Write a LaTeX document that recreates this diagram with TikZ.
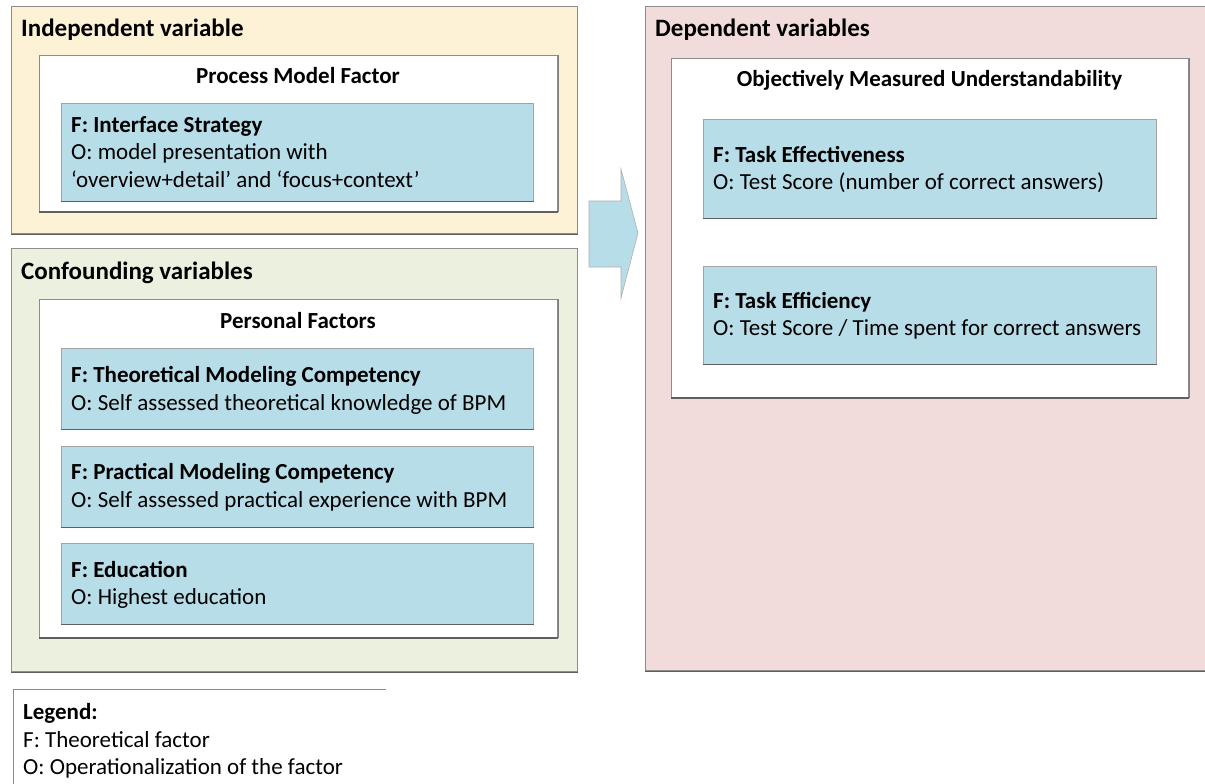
\documentclass[tikz,border=0pt]{standalone}
\usepackage{fontspec}
\setmainfont{Carlito}
\usetikzlibrary{calc}

\definecolor{peach}{RGB}{253,241,214}
\definecolor{sage}{RGB}{235,241,222}
\definecolor{rose}{RGB}{242,220,219}
\definecolor{paleblue}{RGB}{183,221,232}
\definecolor{edge}{RGB}{140,140,140}
\definecolor{darkedge}{RGB}{95,95,95}

\tikzset{
  panel/.style={draw=edge, line width=1.2pt, anchor=north west, inner sep=0pt},
  groupbox/.style={draw=edge, fill=white, line width=1pt, anchor=north west, inner sep=0pt},
  factorbox/.style={draw=edge!80, fill=paleblue, line width=0.8pt, anchor=north west, inner sep=0pt},
  txt/.style={inner sep=0pt, anchor=base west, font=\fontsize{23}{27.5}\selectfont},
  heading/.style={txt, font=\fontsize{23}{27.5}\selectfont\bfseries},
  panelhead/.style={txt, font=\fontsize{25}{30}\selectfont\bfseries},
  centerhead/.style={heading, anchor=base},
  shadowline/.style={draw=darkedge, line width=1.2pt}
}

\begin{document}
\begin{tikzpicture}[x=1pt, y=-1pt]
\useasboundingbox (0,0) rectangle (1205,784);

% ---------- Independent variable ----------
\node[panel, fill=peach, minimum width=566pt, minimum height=227pt] (iv) at (10.5,6) {};
\node[panelhead] (ivt) at (21,37) {Independent variable};
\node[groupbox, minimum width=518pt, minimum height=156pt] (pmf) at (39,55) {};
\node[centerhead] (pmft) at (298,84) {Process Model Factor};
\node[factorbox, minimum width=472pt, minimum height=98pt] (is) at (61,103) {};
\node[heading] (isf) at (71,132) {F: Interface Strategy};
\node[txt] (iso1) at (71,159) {O: model presentation with};
\node[txt] (iso2) at (71,187) {‘overview+detail’ and ‘focus+context’};

% ---------- Confounding variables ----------
\node[panel, fill=sage, minimum width=566pt, minimum height=423pt] (cv) at (11,248) {};
\node[panelhead] (cvt) at (21,279) {Confounding variables};
\node[groupbox, minimum width=518pt, minimum height=338pt] (pf) at (39,299) {};
\node[centerhead] (pft) at (298,328) {Personal Factors};

\node[factorbox, minimum width=472pt, minimum height=81pt] (tmc) at (61,348) {};
\node[heading] (tmcf) at (71,382) {F: Theoretical Modeling Competency};
\node[txt] (tmco) at (71,410) {O: Self assessed theoretical knowledge of BPM};

\node[factorbox, minimum width=472pt, minimum height=81pt] (pmc) at (61,446) {};
\node[heading] (pmcf) at (71,479) {F: Practical Modeling Competency};
\node[txt] (pmco) at (71,507) {O: Self assessed practical experience with BPM};

\node[factorbox, minimum width=472pt, minimum height=81pt] (edu) at (61,543) {};
\node[heading] (eduf) at (71,577) {F: Education};
\node[txt] (eduo) at (71,604) {O: Highest education};

% ---------- Dependent variables ----------
\node[panel, fill=rose, minimum width=570pt, minimum height=664pt] (dv) at (645,6) {};
\node[panelhead] (dvt) at (655,37) {Dependent variables};
\node[groupbox, minimum width=517pt, minimum height=339pt] (omu) at (671,58) {};
\node[centerhead] (omut) at (929.5,87) {Objectively Measured Understandability};

\node[factorbox, minimum width=453pt, minimum height=99pt] (te) at (703,119) {};
\node[heading] (tef) at (713,162) {F: Task Effectiveness};
\node[txt] (teo) at (713,189) {O: Test Score (number of correct answers)};

\node[factorbox, minimum width=453pt, minimum height=98pt] (tf) at (703,266) {};
\node[heading] (tff) at (713,308) {F: Task Efficiency};
\node[txt] (tfo) at (713,335) {O: Test Score / Time spent for correct answers};

% darker lower edges of the boxes
\foreach \b in {iv,cv,dv,pmf,pf,omu,is,tmc,pmc,edu,te,tf}
  \draw[shadowline] (\b.south west) -- (\b.south east);
\foreach \b in {pmf,pf,omu}
  \draw[draw=darkedge!80, line width=1pt] (\b.north east) -- (\b.south east);

% ---------- block arrow between the columns ----------
\coordinate (a1) at (589,201);
\coordinate (a2) at (621,201);
\coordinate (a3) at (621,169);
\coordinate (tip) at (638,233);
\coordinate (a5) at (621,298);
\coordinate (a6) at (621,267);
\coordinate (a7) at (589,267);
\draw[fill=paleblue, draw=edge!70, line width=0.6pt]
  (a1) -- (a2) -- (a3) -- (tip) -- (a5) -- (a6) -- (a7) -- cycle;

% ---------- legend ----------
\coordinate (lg0) at (13,784);
\coordinate (lg1) at (13,689);
\coordinate (lg2) at (386,689);
\draw[draw=edge, line width=1pt] (lg0) -- (lg1) -- (lg2);
\node[heading] (lgt) at (23,719) {Legend:};
\node[txt] (lgf) at (23,747) {F: Theoretical factor};
\node[txt] (lgo) at (23,774) {O: Operationalization of the factor};
\end{tikzpicture}
\end{document}
